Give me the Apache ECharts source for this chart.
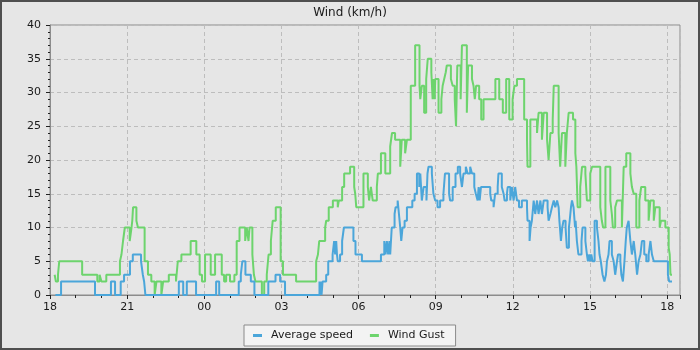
<!DOCTYPE html>
<html>
<head>
<meta charset="utf-8">
<script src="https://cdn.jsdelivr.net/npm/echarts@6/dist/echarts.min.js"></script>
<style>
html,body{margin:0;padding:0;background:#e6e6e6;}
#c{width:700px;height:350px;}
</style>
</head>
<body>
<div id="c"></div>
<script>
// hours since 18:00 on the first day
var xTickLabels = ['18','21','00','03','06','09','12','15','18'];
var seriesNames = ['Average speed', 'Wind Gust'];

var avgTimes = [0.21,0.43,1.75,2.37,2.53,2.75,2.88,3.11,3.22,3.54,3.61,3.66,3.71,5.01,5.18,5.32,5.68,6.46,6.58,7.34,7.42,7.48,7.60,7.81,7.95,8.49,8.77,8.95,9.14,10.48,10.50,10.53,10.56,10.60,10.74,10.82,10.99,11.05,11.09,11.13,11.16,11.19,11.28,11.36,11.43,11.80,11.88,12.13,12.87,13.00,13.05,13.10,13.15,13.20,13.23,13.29,13.40,13.44,13.52,13.57,13.62,13.66,13.71,13.79,13.88,14.09,14.18,14.27,14.36,14.40,14.46,14.53,14.64,14.68,14.72,14.85,14.91,14.98,15.07,15.17,15.30,15.36,15.52,15.56,15.66,15.77,15.86,15.95,16.02,16.08,16.17,16.24,16.34,16.41,16.50,16.56,16.63,16.67,16.71,16.76,17.12,17.16,17.25,17.31,17.41,17.44,17.57,17.64,17.68,17.77,17.80,17.90,17.96,18.03,18.09,18.16,18.24,18.35,18.55,18.57,18.65,18.69,18.74,18.81,18.87,18.94,19.00,19.07,19.13,19.20,19.35,19.39,19.46,19.52,19.59,19.65,19.72,19.78,19.81,19.87,19.92,19.97,20.05,20.10,20.18,20.21,20.26,20.30,20.36,20.42,20.44,20.49,20.55,20.67,20.71,20.82,20.88,20.92,20.97,21.01,21.05,21.10,21.18,21.27,21.33,21.37,21.42,21.49,21.56,21.62,21.66,21.72,21.76,21.85,21.92,21.98,22.05,22.09,22.18,22.22,22.28,22.34,22.39,22.43,22.50,22.57,22.63,22.70,22.76,22.83,22.89,22.96,23.02,23.11,23.19,23.28,23.35,23.41,23.48,24.03,24.08,24.19];
var avgValues = [0,2,0,2,0,2,3,5,6,5,3,2,0,2,0,2,0,2,0,2,3,5,3,2,0,2,3,2,0,2,0,2,0,2,3,5,6,8,6,8,6,5,6,8,10,8,6,5,6,8,6,8,6,8,6,10,12,13,14,12,10,8,10,11,13,14,15,18,16,18,14,16,14,18,19,18,15,14,13,14,15,18,15,14,16,18,19,18,16,18,19,18,19,18,16,15,14,16,14,16,15,14,13,15,16,18,16,15,14,15,16,14,16,14,16,14,13,14,13,11,8,10,11,14,12,14,12,14,12,14,13,11,12,13,14,13,14,13,11,8,10,11,10,7,10,11,13,14,13,10,11,8,6,8,10,8,6,5,6,5,6,5,11,10,8,6,5,3,2,3,5,6,8,6,5,3,5,6,5,3,2,5,8,10,11,8,6,8,6,3,5,6,8,6,5,6,8,6,5,3,2,2];

var gustTimes = [0.18,0.23,0.31,0.36,1.25,1.84,1.93,2.00,2.19,2.72,2.78,2.84,2.91,3.10,3.17,3.20,3.23,3.36,3.42,3.68,3.81,3.94,4.07,4.14,4.33,4.40,4.62,4.90,4.97,5.11,5.47,5.69,5.82,5.91,6.03,6.25,6.42,6.68,6.77,6.85,7.00,7.17,7.26,7.37,7.59,7.65,7.72,7.76,7.87,7.93,7.99,8.24,8.33,8.43,8.50,8.59,8.66,8.78,8.97,9.06,9.57,10.35,10.42,10.47,10.70,10.74,10.84,11.00,11.19,11.23,11.36,11.44,11.67,11.83,11.87,11.91,12.19,12.36,12.41,12.48,12.55,12.71,12.75,12.87,13.04,13.23,13.30,13.42,13.62,13.68,13.81,13.88,14.03,14.20,14.37,14.40,14.46,14.55,14.63,14.69,14.83,14.88,14.92,14.96,14.98,15.11,15.22,15.27,15.33,15.39,15.43,15.59,15.66,15.74,15.79,15.84,15.97,16.02,16.21,16.26,16.41,16.47,16.52,16.57,16.69,16.77,16.86,17.32,17.47,17.61,17.74,17.86,17.99,18.06,18.16,18.44,18.55,18.57,18.68,18.94,19.00,19.13,19.20,19.33,19.39,19.46,19.55,19.59,19.78,19.84,19.91,20.04,20.10,20.17,20.34,20.43,20.47,20.52,20.62,20.69,20.82,20.88,21.01,21.08,21.40,21.46,21.51,21.60,21.79,21.85,21.89,21.98,22.05,22.24,22.31,22.41,22.57,22.63,22.70,22.80,22.92,22.99,23.15,23.28,23.35,23.48,23.54,23.71,23.76,23.93,24.06,24.10,24.13,24.19];
var gustValues = [3,2,3,5,3,2,3,2,3,5,6,8,10,8,10,11,13,11,10,5,3,2,0,2,0,2,3,2,5,6,8,6,3,2,6,3,6,3,2,3,2,3,8,10,8,10,8,10,6,3,2,0,2,3,6,8,11,13,5,3,2,5,6,8,10,11,13,14,13,14,16,18,19,16,15,13,18,16,14,16,14,16,18,21,18,22,24,23,19,23,21,23,31,37,31,29,31,27,32,35,33,29,32,29,32,27,29,31,32,33,34,32,31,29,25,34,29,37,27,34,32,31,29,31,29,26,29,32,29,27,32,26,29,31,32,26,23,19,26,24,27,23,27,23,20,24,26,31,24,19,24,19,24,27,26,21,19,13,16,19,18,14,18,19,13,11,10,19,14,12,10,13,14,10,19,21,18,16,15,10,14,16,14,11,14,11,13,10,11,10,7,6,3,3];

function zip(t, v) {
  var out = [];
  for (var i = 0; i < t.length; i++) out.push([t[i], v[i]]);
  return out;
}

var chart = echarts.init(document.getElementById('c'), null, {renderer: 'canvas'});
var font = 'DejaVu Sans';
chart.setOption({
  animation: false,
  backgroundColor: '#e6e6e6',
  textStyle: {fontFamily: font},
  title: {
    text: 'Wind (km/h)',
    left: 'center',
    top: 2,
    textStyle: {fontFamily: font, fontSize: 12, fontWeight: 'normal', color: '#1a1a1a'}
  },
  graphic: [{
    type: 'rect',
    shape: {x: 1, y: 1, width: 698, height: 348},
    style: {fill: 'none', stroke: '#4f4f4f', lineWidth: 2},
    silent: true,
    z: 100
  }],
  legend: {
    data: seriesNames,
    left: 244,
    top: 325,
    backgroundColor: '#f3f3f3',
    borderColor: '#8a8a8a',
    borderWidth: 1,
    borderRadius: 0,
    padding: [5, 11, 5, 9],
    itemGap: 17,
    itemWidth: 9,
    itemHeight: 3,
    icon: 'rect',
    textStyle: {fontFamily: font, fontSize: 11, color: '#1a1a1a', padding: [0, 0, 0, 4]}
  },
  grid: {
    left: 50, right: 20, top: 25, bottom: 55,
    show: true,
    borderColor: '#8c8c8c',
    borderWidth: 1,
    backgroundColor: 'transparent'
  },
  xAxis: {
    type: 'value',
    min: 0,
    max: 24.5,
    interval: 3,
    axisLine: {show: true, lineStyle: {color: '#8c8c8c', width: 1}},
    axisTick: {show: true, length: 4, lineStyle: {color: '#222'}},
    minorTick: {show: true, splitNumber: 3, length: 3, lineStyle: {color: '#222'}},
    axisLabel: {
      margin: 7,
      fontFamily: font,
      fontSize: 11,
      color: '#1a1a1a',
      showMaxLabel: false,
      formatter: function (v) {
        var i = Math.round(v / 3);
        if (Math.abs(v - i * 3) > 1e-6) return '';
        return xTickLabels[i] || '';
      }
    },
    splitLine: {show: true, lineStyle: {color: '#bdbdbd', type: [4, 3], width: 1}}
  },
  yAxis: {
    type: 'value',
    min: 0,
    max: 40,
    interval: 5,
    axisLine: {show: true, lineStyle: {color: '#8c8c8c', width: 1}},
    axisTick: {show: true, length: 4, lineStyle: {color: '#222'}},
    minorTick: {show: true, splitNumber: 5, length: 2, lineStyle: {color: '#222'}},
    axisLabel: {margin: 9, fontFamily: font, fontSize: 11, color: '#1a1a1a'},
    splitLine: {show: true, lineStyle: {color: '#bdbdbd', type: [4, 3], width: 1}}
  },
  series: [{
    name: seriesNames[0],
    type: 'line',
    step: 'end',
    showSymbol: false,
    symbol: 'none',
    data: zip(avgTimes, avgValues),
    lineStyle: {color: '#4ba6da', width: 2},
    itemStyle: {color: '#4ba6da'},
    z: 3
  }, {
    name: seriesNames[1],
    type: 'line',
    step: 'end',
    showSymbol: false,
    symbol: 'none',
    data: zip(gustTimes, gustValues),
    lineStyle: {color: '#6dd46d', width: 2},
    itemStyle: {color: '#6dd46d'},
    z: 2
  }]
});
</script>
</body>
</html>
